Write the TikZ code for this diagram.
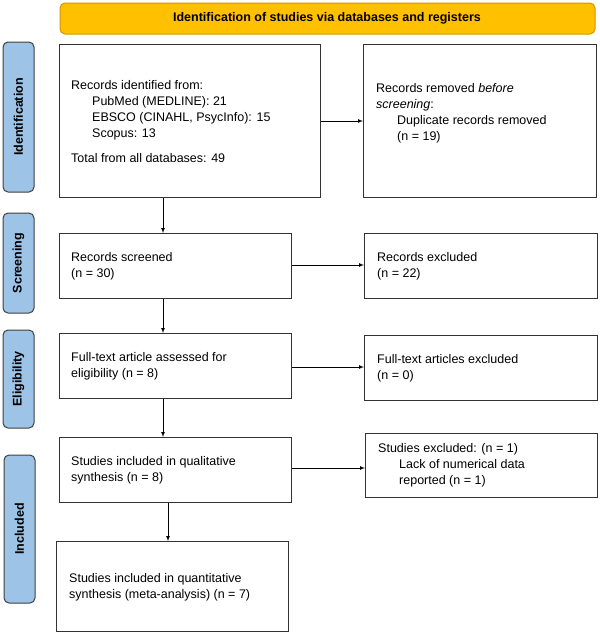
\documentclass[tikz,border=0pt]{standalone}
\usepackage{fontspec}
\setmainfont{Liberation Sans}
\begin{document}
\begin{tikzpicture}[x=1pt,y=-1pt,
  box/.style={draw=black!80,line width=1.1pt},
  txt/.style={anchor=west,align=left,inner sep=0pt,font=\fontsize{12.5}{16}\selectfont},
  side/.style={draw=black!75,fill={rgb,255:red,157;green,195;blue,230},rounded corners=5pt,line width=1pt},
  sidetxt/.style={rotate=90,font=\bfseries\fontsize{12.5}{15}\selectfont},
  arr/.style={-latex,line width=0.7pt}]
\useasboundingbox (0,0) rectangle (600,633);
% banner
\draw[draw={rgb,255:red,214;green,150;blue,0},fill={rgb,255:red,255;green,192;blue,0},rounded corners=5pt,line width=1pt] (60,3) rectangle (595,34);
\node[font=\bfseries\fontsize{12.5}{15}\selectfont] (ban) at (327,18.5) {Identification of studies via databases and registers};
% side labels
\draw[side] (3,42) rectangle (34,192);
\node[sidetxt] (l1) at (18.5,117) {Identification};
\draw[side] (3,213) rectangle (34,313);
\node[sidetxt] (l2) at (18.5,263) {Screening};
\draw[side] (3,330) rectangle (34,428);
\node[sidetxt] (l3) at (18.5,379) {Eligibility};
\draw[side] (4,455) rectangle (35,603);
\node[sidetxt] (l4) at (19.5,529) {Included};
% boxes
\node[box,minimum width=261,minimum height=153,anchor=north west] (b1) at (59,44) {};
\node[txt] (t1) at (71,122) {Records identified from:\\
\hspace*{21pt}PubMed (MEDLINE): 21\\
\hspace*{21pt}EBSCO (CINAHL, PsycInfo): 15\\
\hspace*{21pt}Scopus: 13\\[9pt]
Total from all databases: 49};
\node[box,minimum width=233,minimum height=153,anchor=north west] (r1) at (363,44) {};
\node[txt] (tr1) at (376,113) {Records removed \textit{before}\\
\textit{screening}:\\
\hspace*{21pt}Duplicate records removed\\
\hspace*{21pt}(n = 19)};
\node[box,minimum width=232,minimum height=65,anchor=north west] (b2) at (59,233) {};
\node[txt] (t2) at (71,266) {Records screened\\(n = 30)};
\node[box,minimum width=233,minimum height=65,anchor=north west] (r2) at (364,233) {};
\node[txt] (tr2) at (377,266) {Records excluded\\(n = 22)};
\node[box,minimum width=232,minimum height=65,anchor=north west] (b3) at (59,333) {};
\node[txt] (t3) at (71,366) {Full-text article assessed for\\eligibility (n = 8)};
\node[box,minimum width=233,minimum height=65,anchor=north west] (r3) at (364,335) {};
\node[txt] (tr3) at (377,368) {Full-text articles excluded\\(n = 0)};
\node[box,minimum width=232,minimum height=65,anchor=north west] (b4) at (59,437) {};
\node[txt] (t4) at (71,470) {Studies included in qualitative\\synthesis (n = 8)};
\node[box,minimum width=232,minimum height=64,anchor=north west] (r4) at (365,433) {};
\node[txt] (tr4) at (378,465) {Studies excluded: (n = 1)\\
\hspace*{21pt}Lack of numerical data\\
\hspace*{21pt}reported (n = 1)};
\node[box,minimum width=232,minimum height=90,anchor=north west] (b5) at (56,541) {};
\node[txt] (t5) at (69,587) {Studies included in quantitative\\synthesis (meta-analysis) (n = 7)};
% arrows
\draw[arr] (b1.south -| 163,0) -- (b2.north -| 163,0);
\draw[arr] (b2.south -| 163,0) -- (b3.north -| 163,0);
\draw[arr] (b3.south -| 163,0) -- (b4.north -| 163,0);
\draw[arr] (b4.south -| 168,0) -- (b5.north -| 168,0);
\draw[arr] (b1.east |- 0,121) -- (r1.west |- 0,121);
\draw[arr] (b2.east |- 0,265) -- (r2.west |- 0,265);
\draw[arr] (b3.east |- 0,367) -- (r3.west |- 0,367);
\draw[arr] (b4.east |- 0,468) -- (r4.west |- 0,468);
\end{tikzpicture}
\end{document}
